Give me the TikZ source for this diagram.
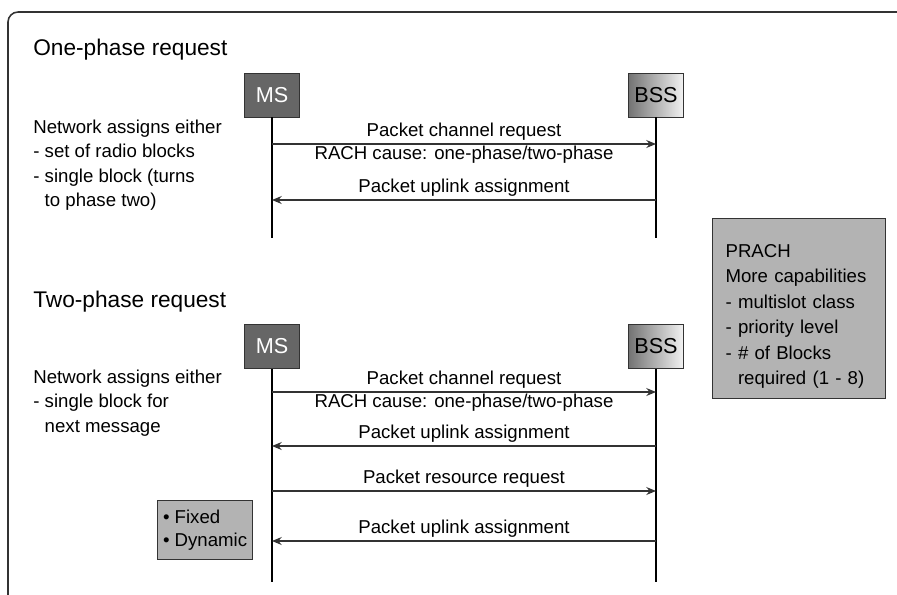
\documentclass[tikz,border=0pt]{standalone}
\usepackage{fontspec}
\setmainfont{Liberation Sans}
\usetikzlibrary{arrows.meta}

\definecolor{linegray}{HTML}{333333}
\definecolor{msgray}{HTML}{666666}
\definecolor{notegray}{HTML}{B3B3B3}

\begin{document}
\begin{tikzpicture}[
    % Section heading style
    heading/.style={
        anchor=base west,
        inner sep=0pt,
        font=\fontsize{12.9}{15}\selectfont
    },
    % Side text style
    sidetext/.style={
        anchor=north west,
        inner sep=0pt,
        align=left,
        font=\fontsize{10.6}{13.9}\selectfont
    },
    % Entity box styles
    msbox/.style={
        rectangle,
        draw=linegray,
        fill=msgray,
        text=white,
        minimum width=1.1cm,
        minimum height=0.88cm,
        font=\fontsize{12.3}{14}\selectfont
    },
    bssbox/.style={
        rectangle,
        draw=linegray,
        left color=black!55,
        right color=black!5,
        minimum width=1.1cm,
        minimum height=0.88cm,
        font=\fontsize{12.3}{14}\selectfont
    },
    % Lifeline style
    lifeline/.style={
        draw=black,
        line width=0.6pt
    },
    % Message arrow style
    arrow/.style={
        -{Stealth[length=5.5pt, width=4.5pt]},
        draw=linegray,
        line width=0.7pt
    },
    % Message label style
    lbl/.style={
        font=\fontsize{10.6}{13}\selectfont,
        inner sep=1.7pt
    },
    % Grey note box style
    note/.style={
        rectangle,
        draw=linegray,
        fill=notegray,
        line width=0.7pt,
        anchor=north west,
        align=left,
        font=\fontsize{10.6}{14.5}\selectfont
    }
]
\useasboundingbox (0,0) rectangle (17.94,-11.88);

% === Outer frame ===
\draw[draw=linegray, line width=0.9pt, rounded corners=0.2cm]
    (0.16,-11.95) -- (0.16,-0.24) -- (18.1,-0.24);

% === One-phase request ===
\node[heading] (head1) at (0.66,-1.10) {One-phase request};

\node[msbox] (ms1) at (5.44,-1.90) {MS};
\node[bssbox] (bss1) at (13.12,-1.90) {BSS};

\coordinate (ms1end) at (ms1 |- 0,-4.76);
\coordinate (bss1end) at (bss1 |- 0,-4.76);
\draw[lifeline] (ms1) -- (ms1end);
\draw[lifeline] (bss1) -- (bss1end);

\node[sidetext] (net1) at (0.66,-2.39)
    {Network assigns either\\
     - set of radio blocks\\
     - single block (turns\\
     \phantom{- }to phase two)};

% Messages
\coordinate (m1a) at (ms1 |- 0,-2.88);
\coordinate (m1b) at (bss1 |- 0,-2.88);
\draw[arrow] (m1a) -- node[lbl, above] {Packet channel request}
    node[lbl, below, inner sep=0.6pt] {RACH cause: one-phase/two-phase} (m1b);

\coordinate (m2a) at (bss1 |- 0,-4.00);
\coordinate (m2b) at (ms1 |- 0,-4.00);
\draw[arrow] (m2a) -- node[lbl, above] {Packet uplink assignment} (m2b);

% === PRACH note (right margin) ===
\node[note, text width=2.94cm, inner xsep=0.26cm, minimum width=3.46cm,
      minimum height=3.6cm] (prach) at (14.24,-4.36)
    {\rule{0pt}{16.5pt}PRACH\\
     More capabilities\\
     - multislot class\\
     - priority level\\
     - \# of Blocks\\
     \phantom{- }required (1 - 8)};

% === Two-phase request ===
\node[heading] (head2) at (0.66,-6.15) {Two-phase request};

\node[msbox] (ms2) at (5.44,-6.93) {MS};
\node[bssbox] (bss2) at (13.12,-6.93) {BSS};

\coordinate (ms2end) at (ms2 |- 0,-11.64);
\coordinate (bss2end) at (bss2 |- 0,-11.64);
\draw[lifeline] (ms2) -- (ms2end);
\draw[lifeline] (bss2) -- (bss2end);

\node[sidetext] (net2) at (0.66,-7.39)
    {Network assigns either\\
     - single block for\\
     \phantom{- }next message};

% Messages
\coordinate (m3a) at (ms2 |- 0,-7.84);
\coordinate (m3b) at (bss2 |- 0,-7.84);
\draw[arrow] (m3a) -- node[lbl, above] {Packet channel request}
    node[lbl, below, inner sep=0.6pt] {RACH cause: one-phase/two-phase} (m3b);

\coordinate (m4a) at (bss2 |- 0,-8.92);
\coordinate (m4b) at (ms2 |- 0,-8.92);
\draw[arrow] (m4a) -- node[lbl, above] {Packet uplink assignment} (m4b);

\coordinate (m5a) at (ms2 |- 0,-9.82);
\coordinate (m5b) at (bss2 |- 0,-9.82);
\draw[arrow] (m5a) -- node[lbl, above] {Packet resource request} (m5b);

\coordinate (m6a) at (bss2 |- 0,-10.82);
\coordinate (m6b) at (ms2 |- 0,-10.82);
\draw[arrow] (m6a) -- node[lbl, above] {Packet uplink assignment} (m6b);

% Allocation note
\node[note, inner xsep=0.1cm, minimum width=1.9cm, minimum height=1.18cm,
      font=\fontsize{10.6}{13.2}\selectfont]
    (alloc) at (3.14,-10.00)
    {\textbullet\ Fixed\\
     \textbullet\ Dynamic};

\end{tikzpicture}
\end{document}
